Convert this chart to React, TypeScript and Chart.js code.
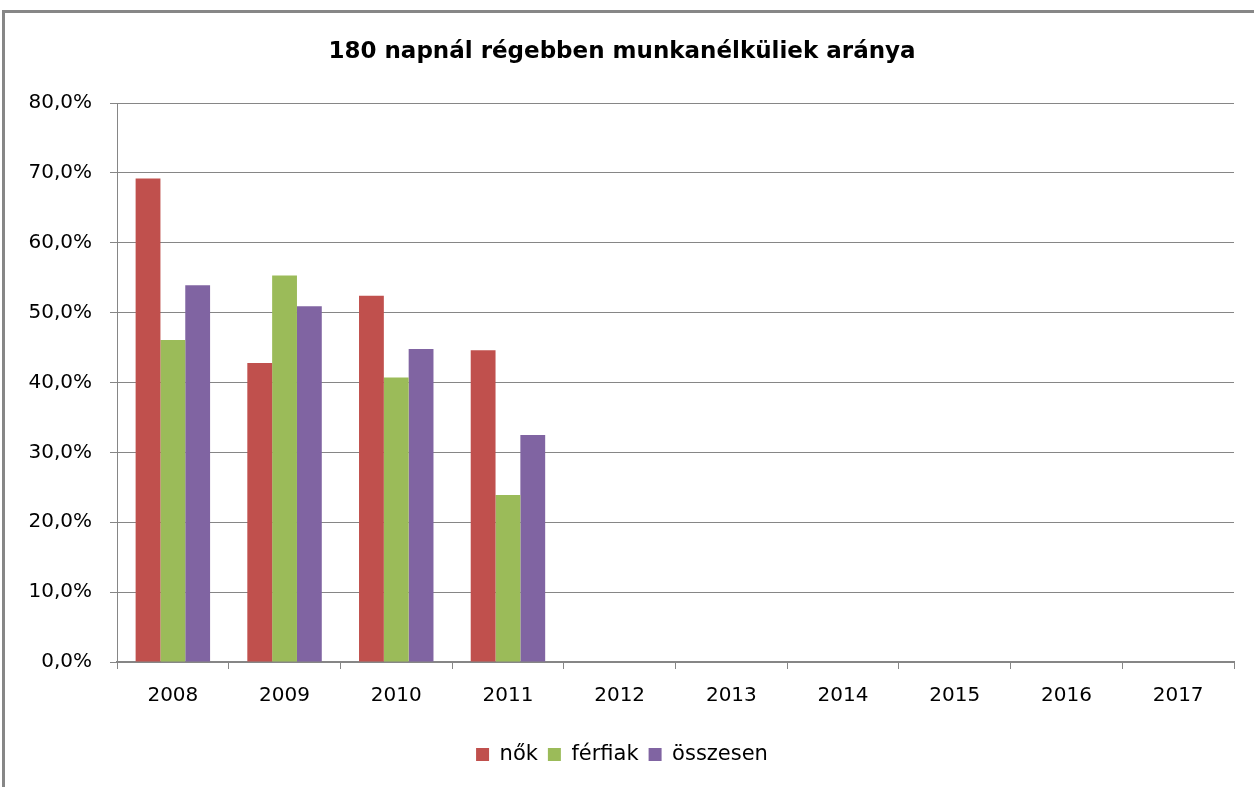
import React, { useEffect, useRef } from "react";
import { Chart, registerables } from "chart.js";

Chart.register(...registerables);

const categories = ["2008", "2009", "2010", "2011", "2012", "2013", "2014", "2015", "2016", "2017"];
const nok = [69.2, 42.8, 52.4, 44.6, null, null, null, null, null, null];
const ferfiak = [46.1, 55.3, 40.7, 23.9, null, null, null, null, null, null];
const osszesen = [53.9, 50.9, 44.8, 32.5, null, null, null, null, null, null];
const seriesNames = ["nők", "férfiak", "összesen"];
const titleText = "180 napnál régebben munkanélküliek aránya";

const GRID = "#868686";
const FONT = "'DejaVu Sans', sans-serif";

export default function App() {
  const ref = useRef<HTMLCanvasElement | null>(null);
  useEffect(() => {
    if (!ref.current) return;
    const chart = new Chart(ref.current, {
      type: "bar",
      data: {
        labels: categories,
        datasets: [
          { label: seriesNames[0], data: nok, backgroundColor: "#C0504D" },
          { label: seriesNames[1], data: ferfiak, backgroundColor: "#9BBB59" },
          { label: seriesNames[2], data: osszesen, backgroundColor: "#8064A2" },
        ],
      },
      options: {
        animation: false,
        responsive: false,
        maintainAspectRatio: false,
        datasets: { bar: { categoryPercentage: 3 / 4.5, barPercentage: 1 } },
        layout: { padding: { left: 10, right: 20, top: 0, bottom: 12 } },
        plugins: {
          tooltip: { enabled: false },
          title: {
            display: true,
            text: titleText,
            color: "#000",
            font: { family: FONT, size: 23, weight: "bold", lineHeight: 1.2 },
            padding: { top: 38, bottom: 37.4 },
          },
          legend: {
            position: "bottom",
            labels: {
              color: "#000",
              font: { family: FONT, size: 21 },
              boxWidth: 13,
              boxHeight: 13,
              padding: 10,
            },
          },
        },
        scales: {
          x: {
            grid: {
              display: true,
              drawOnChartArea: false,
              drawTicks: true,
              tickLength: 7,
              color: GRID,
              offset: true,
            },
            border: { display: true, color: GRID, width: 2 },
            ticks: { color: "#000", font: { family: FONT, size: 20 }, padding: 15, maxRotation: 0 },
            afterFit: (s: any) => {
              s.height = 72;
            },
          },
          y: {
            min: 0,
            max: 80,
            grid: { color: GRID, tickLength: 7, lineWidth: 1 },
            border: { display: true, color: GRID, width: 1 },
            ticks: {
              stepSize: 10,
              color: "#000",
              font: { family: FONT, size: 20 },
              padding: 18,
              callback: (v: any) => Number(v).toFixed(1).replace(".", ",") + "%",
            },
            afterFit: (s: any) => {
              s.width = 107;
            },
          },
        },
      },
    });
    return () => chart.destroy();
  }, []);
  return (
    <div style={{ position: "fixed", left: 0, top: 0, width: 1254, height: 787, overflow: "hidden", background: "#fff" }}>
      <div
        style={{
          position: "absolute",
          left: 2,
          top: 10,
          width: 1400,
          height: 900,
          border: "3px solid #878787",
          boxSizing: "border-box",
        }}
      />
      <canvas ref={ref} width={1254} height={787} style={{ position: "absolute", left: 0, top: 0 }} />
    </div>
  );
}
